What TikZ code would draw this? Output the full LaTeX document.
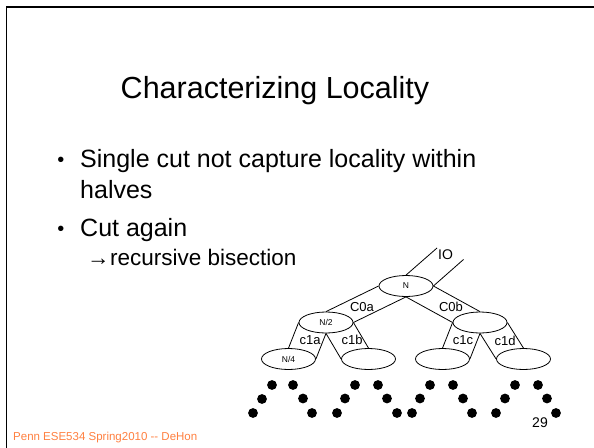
\documentclass[tikz,border=0pt]{standalone}
\usepackage{fontspec}
\setmainfont{Liberation Sans}
\usetikzlibrary{shapes.geometric}
\definecolor{footer}{RGB}{255,128,64}
\begin{document}
\begin{tikzpicture}[x=1pt,y=-1pt,
  txt/.style={inner sep=0pt, anchor=base west},
  cell/.style={draw, ellipse, minimum width=54pt, minimum height=21pt, inner sep=0pt, line width=0.8pt, font=\fontsize{8.5}{10}\selectfont},
  wire/.style={line width=0.8pt},
  lbl/.style={inner sep=0pt, font=\fontsize{13}{15}\selectfont},
  bigtxt/.style={font=\fontsize{25}{30}\selectfont},
  bul/.style={inner sep=0pt, anchor=base, font=\fontsize{20}{24}\selectfont},
  subtxt/.style={font=\fontsize{22.5}{27}\selectfont}]
\useasboundingbox (0,0) rectangle (594,447);
\fill[white] (0,0) rectangle (594,447);
\draw[line width=1.6pt] (6.5,450) -- (6.5,7) -- (597,7);

% title and bullets
\node[inner sep=0pt, anchor=base] (title) at (275,98) {\fontsize{30.5}{36}\selectfont Characterizing Locality};
\node[bul] (b1) at (61,166) {•};
\node[txt, bigtxt] (l1) at (80,167) {Single cut not capture locality within};
\node[txt, bigtxt] (l2) at (80,198) {halves};
\node[bul] (b2) at (61,235) {•};
\node[txt, bigtxt] (l3) at (80,236) {Cut again};
\node[txt, subtxt] (arr) at (87,265) {→};
\node[txt, subtxt] (l4) at (110,265) {recursive bisection};

% tree
\node[cell] (tN) at (406,286) {N};
\node[cell] (tL) at (326,322.5) {N/2};
\node[cell] (tR) at (480,322.5) {};
\node[cell] (tLL) at (288.5,359) {N/4};
\node[cell] (tLR) at (368.5,359) {};
\node[cell] (tRL) at (442.5,359) {};
\node[cell] (tRR) at (523.5,359) {};

\coordinate (io1) at (437,248);
\coordinate (io2) at (463.5,259.5);
\draw[wire] (tN.north) -- (io1);
\draw[wire] (tN.east) -- (io2);
\node[lbl, font=\fontsize{14}{16}\selectfont] (io) at (445.5,255) {IO};

\draw[wire] (tN.west) -- (tL.north);
\draw[wire] (tN.south) -- (tL.east);
\draw[wire] (tN.east) -- (tR.north);
\draw[wire] (tN.south) -- (tR.west);

\draw[wire] (tL.west) -- (tLL.north);
\draw[wire] (tL.south) -- (tLL.east);
\draw[wire] (tL.south) -- (tLR.west);
\draw[wire] (tL.east) -- (tLR.north);

\draw[wire] (tR.west) -- (tRL.north);
\draw[wire] (tR.south) -- (tRL.east);
\draw[wire] (tR.south) -- (tRR.west);
\draw[wire] (tR.east) -- (tRR.north);

\node[lbl] (c0a) at (362,307) {C0a};
\node[lbl] (c0b) at (451,307) {C0b};
\node[lbl] (c1a) at (310,340) {c1a};
\node[lbl] (c1b) at (352,340) {c1b};
\node[lbl] (c1c) at (463,340.5) {c1c};
\node[lbl] (c1d) at (505,340.5) {c1d};

% dots
\foreach \px/\py in {253/413,262/399,272/385, 293/385,303/398.5,312/413,
                     337/413,345/398.5,355/385, 378/385,387/398.5,397/413,
                     412/413,420/398.5,430/385, 453/385,463/398.5,472/413,
                     496/413,505/398.5,515/385, 538/385,547/398.5,556/413}
  \fill (\px,\py) circle (4.9pt);

\node[inner sep=0pt] (pg) at (540,423) {\fontsize{14}{16}\selectfont 29};
\node[txt, text=footer] (ft) at (13,440.5) {\fontsize{11.5}{13}\selectfont Penn ESE534 Spring2010 -{}- DeHon};
\end{tikzpicture}
\end{document}
